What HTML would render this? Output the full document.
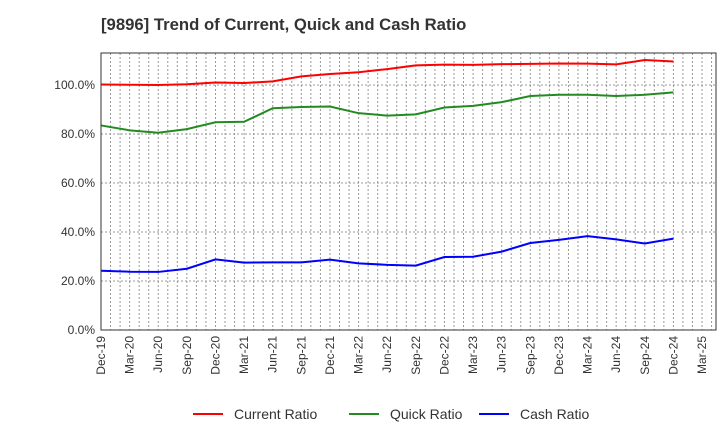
<!DOCTYPE html>
<html><head><meta charset="utf-8"><style>
body{margin:0;background:#fff;font-family:"Liberation Sans",Arial,sans-serif;}
svg{display:block}
</style></head><body>
<svg id="chart" width="720" height="440" xmlns="http://www.w3.org/2000/svg">
<text x="101" y="30" font-size="16.7" font-weight="bold" fill="#333">[9896]  Trend of Current, Quick and Cash Ratio</text>
<g id="grid"></g><g id="series"></g><g id="axes"></g><g id="legend"></g>
</svg>
<script>
const xLabels=["Dec-19","Mar-20","Jun-20","Sep-20","Dec-20","Mar-21","Jun-21","Sep-21","Dec-21","Mar-22","Jun-22","Sep-22","Dec-22","Mar-23","Jun-23","Sep-23","Dec-23","Mar-24","Jun-24","Sep-24","Dec-24","Mar-25"];
const yTicks=[0,20,40,60,80,100];
const currentRatio=[100.2,100.1,100,100.3,101,100.8,101.5,103.5,104.5,105.2,106.5,108,108.3,108.2,108.5,108.6,108.8,108.7,108.4,110.2,109.6];
const quickRatio=[83.5,81.5,80.5,82,84.8,85,90.5,91,91.2,88.5,87.5,88,90.8,91.5,93,95.5,96,96,95.5,96,97];
const cashRatio=[24.2,23.8,23.7,25,28.8,27.5,27.6,27.6,28.7,27.2,26.6,26.3,29.8,29.9,32,35.5,36.8,38.3,37,35.3,37.3];
const L=101,R=716,T=53,B=330,Q=28.62;
const x=i=>L+i*Q;
const y=v=>B-v*2.45;
const NS="http://www.w3.org/2000/svg";
function mk(tag,attrs,parent){const e=document.createElementNS(NS,tag);for(const k in attrs)e.setAttribute(k,attrs[k]);parent.appendChild(e);return e;}
const grid=document.getElementById('grid'),axes=document.getElementById('axes'),ser=document.getElementById('series'),leg=document.getElementById('legend');
for(let m=1;m*Q/3+L<R;m++){const gx=L+m*Q/3;
const g=mk('line',{x1:gx,x2:gx,y1:T,y2:B,stroke:'#999','stroke-dasharray':'2,2','stroke-width':1},grid);

}
yTicks.forEach(v=>{
if(v>0){const g=mk('line',{x1:L,x2:R,y1:y(v),y2:y(v),stroke:'#999','stroke-dasharray':'2,2','stroke-width':1},grid);

}
const t=mk('text',{x:L-6,y:y(v)+4,'text-anchor':'end','font-size':12,fill:'#333'},axes);t.textContent=v.toFixed(1)+'%';


});
const box=mk('rect',{x:L,y:T,width:R-L,height:B-T,fill:'none',stroke:'#333','stroke-width':1},axes);


xLabels.forEach((s,i)=>{
const t=mk('text',{transform:`translate(${x(i)+4},${B+6}) rotate(-90)`,'text-anchor':'end','font-size':12,fill:'#333'},axes);t.textContent=s;


});
[[currentRatio,'#ff0000','current-ratio-line','Current Ratio',193],[quickRatio,'#228b22','quick-ratio-line','Quick Ratio',349],[cashRatio,'#0000ff','cash-ratio-line','Cash Ratio',479]].forEach(([d,c,n,lab,lx])=>{
const p=mk('polyline',{points:d.map((v,i)=>x(i)+','+y(v)).join(' '),fill:'none',stroke:c,'stroke-width':2},ser);


const g=mk('g',{},leg);


mk('line',{x1:lx,x2:lx+30,y1:414,y2:414,stroke:c,'stroke-width':2},g);
const t=mk('text',{x:lx+41,y:419,'font-size':14,fill:'#333'},g);t.textContent=lab;
});
</script>
</body></html>
